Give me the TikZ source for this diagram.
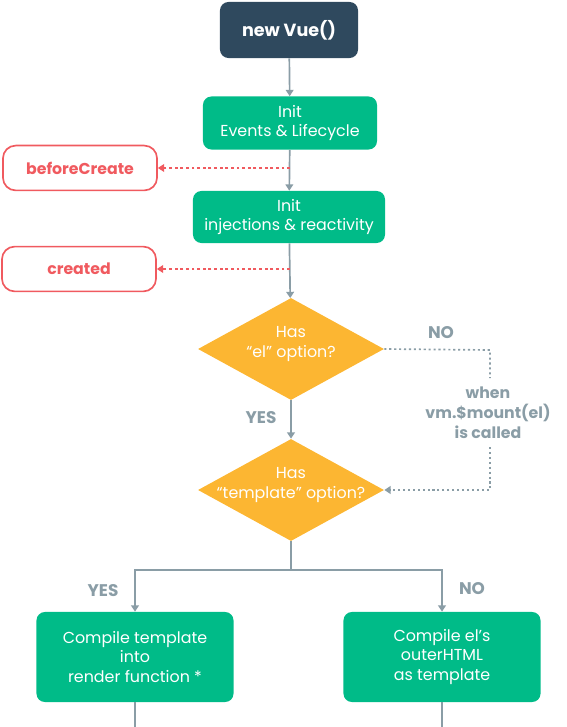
\documentclass[tikz,border=0pt]{standalone}
\usepackage{fontspec}
\setmainfont{Poppins}
\usetikzlibrary{shapes.geometric,arrows.meta,positioning}

\definecolor{vuedark}{RGB}{47,73,94}
\definecolor{vuegreen}{RGB}{0,187,136}
\definecolor{hookred}{RGB}{240,90,95}
\definecolor{flowgrey}{RGB}{138,157,166}
\definecolor{vueorange}{RGB}{252,182,50}

\begin{document}
\begin{tikzpicture}[x=0.025cm, y=-0.025cm,
    >={Triangle[width=5.5pt,length=4.5pt]},
    start/.style={fill=vuedark, text=white, rounded corners=6pt,
      minimum width=3.45cm, minimum height=1.4cm,
      font=\bfseries\fontsize{12.5}{14}\selectfont},
    initbox/.style={fill=vuegreen, text=white, rounded corners=6pt,
      align=center, font=\fontsize{11.3}{13.6}\selectfont},
    hook/.style={draw=hookred, line width=1.2pt, rounded corners=9pt,
      text=hookred, minimum width=3.85cm, minimum height=1.12cm,
      font=\bfseries\fontsize{11.2}{13}\selectfont},
    decision/.style={diamond, shape aspect=1.82, fill=vueorange,
      text=white, align=center,
      inner xsep=-16pt, inner ysep=-6pt, text depth=10pt,
      minimum width=4.65cm, minimum height=2.55cm,
      font=\fontsize{11.3}{13.6}\selectfont},
    flow/.style={draw=flowgrey, line width=1.2pt},
    hookline/.style={draw=hookred, line width=1.2pt,
      dash pattern=on 2pt off 2pt, ->},
    mountline/.style={draw=flowgrey, line width=1.2pt,
      dash pattern=on 1.5pt off 2pt},
    answer/.style={text=flowgrey, font=\bfseries\fontsize{12}{14}\selectfont}]
  \useasboundingbox (0,0) rectangle (566,727);

  % main column
  \node (vue) [start] at (289,30) {new Vue()};
  \node (events) [initbox, minimum width=4.35cm, minimum height=1.325cm]
    at (290,123) {Init\\Events \& Lifecycle};
  \node (inject) [initbox, minimum width=4.8cm, minimum height=1.3cm]
    at (289,217) {Init\\injections \& reactivity};
  \node (hasel) [decision] at (291,349) {Has\\“el” option?};
  \node (hastpl) [decision] at (291,490) {Has\\“template” option?};
  \node (render) [initbox, minimum width=4.925cm, minimum height=2.25cm]
    at (135,657) {Compile template\\into\\render function *};
  \node (outer) [initbox, minimum width=4.925cm, minimum height=2.25cm]
    at (442,657) {Compile el’s\\outerHTML\\as template};

  % hooks
  \node (beforecreate) [hook] at (80,168) {beforeCreate};
  \node (created) [hook] at (79,269) {created};
  \coordinate (bcpoint) at (290,168);
  \coordinate (crpoint) at (290,269);

  % labels
  \node (noel) [answer] at (441,333) {NO};
  \node (yesel) [answer] at (261,418) {YES};
  \node (yestpl) [answer] at (103,591) {YES};
  \node (notpl) [answer] at (472,589) {NO};
  \node (mount) [answer, align=center, font=\bfseries\fontsize{11.2}{14.2}\selectfont]
    at (488,413) {when\\vm.\$mount(el)\\is called};

  \coordinate (mountcorner) at (490,350);
  \coordinate (mounttop) at (490,378);
  \coordinate (mountbot) at (490,447);
  \coordinate (split) at (291,570);
  \coordinate (renderout) at (135,727);
  \coordinate (outerout) at (442,727);

  \draw[flow, ->] (vue) -- (events);
  \draw[flow, ->] (events) -- (inject);
  \draw[flow, ->] (inject) -- (hasel);
  \draw[flow, ->] (hasel) -- (hastpl);
  \draw[hookline] (bcpoint) -- (beforecreate);
  \draw[hookline] (crpoint) -- (created);

  \draw[mountline] (hasel.east) -- (mountcorner) -- (mounttop);
  \draw[mountline, ->] (mountbot) |- (hastpl.east);

  \draw[flow] (hastpl.south) -- (split);
  \draw[flow, ->] (split) -| (render.north);
  \draw[flow, ->] (split) -| (outer.north);
  \draw[flow] (render) -- (renderout);
  \draw[flow] (outer) -- (outerout);
\end{tikzpicture}
\end{document}
